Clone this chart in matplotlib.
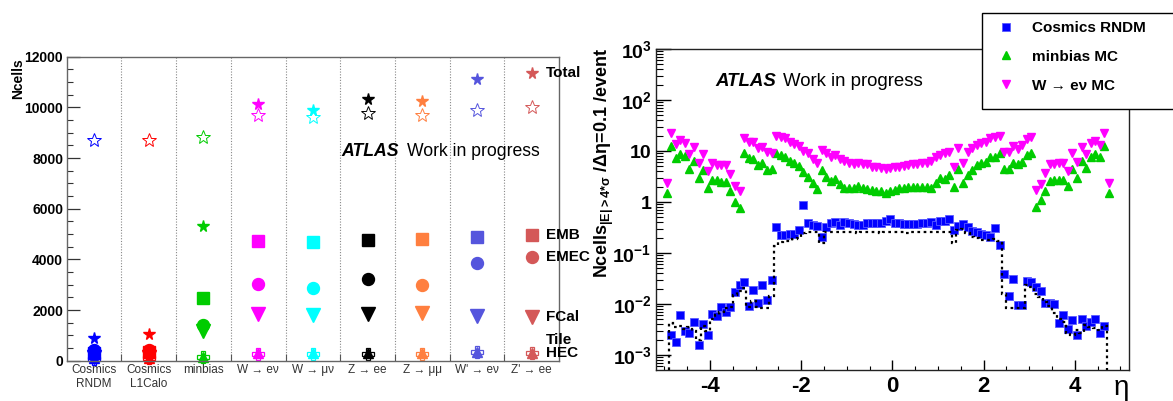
import numpy as np
import matplotlib
matplotlib.use('Agg')
import matplotlib.pyplot as plt
from matplotlib.patches import Rectangle
from matplotlib.ticker import FixedLocator, MultipleLocator, LogLocator, NullFormatter

plt.rcParams['font.family'] = ['Liberation Sans', 'DejaVu Sans']
plt.rcParams['mathtext.default'] = 'regular'
plt.rcParams['axes.unicode_minus'] = False

# ---------------- left panel data ----------------
categories = ['Cosmics\nRNDM', 'Cosmics\nL1Calo', 'minbias', 'W → eν', 'W → μν',
              'Z → ee', 'Z → μμ', "W' → eν", "Z' → ee"]
cat_colors = ['#0000ff', '#ff0000', '#00cc00', '#ff00ff', '#00ffff',
              '#000000', '#ff7f3f', '#5555dd', '#d45858']
total = [884, 1054, 5318, 10122, 9897, 10320, 10253, 11109, 11344]
total_open = [8713, 8713, 8843, 9700, 9610, 9791, 9700, 9897, 10026]
emb = [300, 330, 2488, 4726, 4674, 4765, 4793, 4895, 4963]
emec = [420, 430, 1409, 3016, 2858, 3213, 2989, 3869, 4106]
fcal = [150, 160, 1170, 1832, 1804, 1832, 1895, 1764, 1737]
tile = [80, 90, 150, 270, 270, 250, 260, 330, 300]
hec = [100, 120, 140, 300, 300, 320, 300, 330, 300]
legend_rows = [('Total', total, 0), ('EMB', emb, 0), ('EMEC', emec, 0),
               ('FCal', fcal, 0), ('Tile', tile, 9.6), ('HEC', hec, 0)]

# ---------------- right panel data ----------------
eta_mc = -4.95 + 0.1 * np.arange(98)
eta_cos = -4.85 + 0.1 * np.arange(96)
hist_edges = -4.9 + 0.1 * np.arange(97)

cosmics = [0.0025, 0.0018, 0.0060, 0.0030, 0.0027, 0.0044, 0.0016, 0.0041, 0.0025, 0.0063,
           0.0058, 0.0088, 0.0070, 0.0088, 0.0175, 0.0236, 0.0267, 0.0092, 0.0191, 0.0106,
           0.024, 0.012, 0.030, 0.32, 0.223, 0.225, 0.237, 0.24, 0.283, 0.863,
           0.383, 0.355, 0.34, 0.21, 0.33, 0.383, 0.406, 0.36, 0.406, 0.383,
           0.37, 0.355, 0.355, 0.383, 0.383, 0.383, 0.39, 0.425, 0.47,
           0.383, 0.38, 0.37, 0.37, 0.37, 0.37, 0.38, 0.39, 0.41, 0.36,
           0.43, 0.42, 0.466, 0.284, 0.34, 0.37, 0.32, 0.27, 0.255, 0.237,
           0.225, 0.21, 0.305, 0.142, 0.038, 0.0144, 0.0315, 0.0096, 0.0096, 0.0288,
           0.0275, 0.0219, 0.0183, 0.0106, 0.0106, 0.0100, 0.0043, 0.0060, 0.0033, 0.0049,
           0.0025, 0.0051, 0.0037, 0.0045, 0.0051, 0.0027, 0.0038]

cosmics_hist = [0.0042, 0.0035, 0.0037, 0.0033, 0.0036, 0.0030, 0.0020, 0.0038, 0.0030, 0.0052,
                0.0060, 0.0070, 0.0085, 0.0088, 0.015, 0.018, 0.021, 0.0088, 0.0115, 0.0087,
                0.0085, 0.0082, 0.0145, 0.135, 0.164, 0.17, 0.175, 0.19, 0.20, 0.25,
                0.26, 0.26, 0.26, 0.155, 0.26, 0.26, 0.26, 0.26, 0.26, 0.26,
                0.26, 0.25, 0.26, 0.26, 0.26, 0.26, 0.25, 0.26, 0.26,
                0.255, 0.255, 0.255, 0.25, 0.255, 0.255, 0.255, 0.255, 0.255, 0.255,
                0.255, 0.255, 0.255, 0.155, 0.28, 0.29, 0.25, 0.21, 0.20, 0.18,
                0.18, 0.18, 0.19, 0.17, 0.016, 0.0083, 0.0083, 0.0083, 0.0083, 0.024,
                0.022, 0.016, 0.014, 0.011, 0.0091, 0.0068, 0.0050, 0.0044, 0.0027, 0.0025,
                0.0031, 0.0027, 0.0039, 0.0036, 0.0034, 0.0031, 0.0038]

minbias = [1.48, 12.8, 7.4, 8.8, 8.0, 4.45, 6.5, 2.97, 4.26, 1.91,
           2.71, 2.68, 2.51, 2.51, 1.65, 1.02, 0.78, 9.0, 7.2, 7.0,
           5.26, 5.75, 4.26, 4.4, 9.0, 8.3, 7.7, 6.4, 5.75, 5.1,
           3.95, 3.16, 2.33, 1.78, 4.26, 3.06, 2.63, 2.79, 2.26, 1.86,
           1.86, 1.91, 2.10, 1.86, 1.83, 1.73, 1.65, 1.63, 1.49, 1.68,
           1.73, 1.86, 1.91, 1.94, 2.01, 2.01, 2.01, 1.94, 1.86, 2.40,
           2.92, 2.79, 3.40, 2.01, 4.40, 2.33, 3.40, 4.26, 5.33, 5.93,
           6.2, 7.55, 7.8, 9.0, 4.4, 4.4, 5.75, 5.5, 6.2, 8.4,
           9.0, 0.79, 1.10, 1.67, 2.59, 2.71, 2.71, 2.71, 2.10, 4.4,
           3.01, 6.5, 4.6, 7.7, 8.6, 7.6, 12.8, 1.48]

wenu = [2.40, 23.0, 13.6, 16.5, 14.6, 8.8, 11.9, 5.75, 8.8, 4.07,
        5.75, 5.33, 5.33, 5.33, 3.5, 2.07, 1.65, 17.8, 15.3, 14.9,
        11.3, 11.8, 9.5, 9.0, 19.5, 19.1, 17.8, 15.3, 13.8, 12.6,
        10.2, 9.0, 6.9, 5.75, 10.5, 9.0, 7.8, 8.3, 6.9, 6.5,
        5.9, 5.6, 5.75, 5.5, 5.6, 4.9, 4.9, 4.6, 4.4, 4.6,
        4.9, 4.9, 5.1, 5.33, 5.6, 5.6, 5.75, 5.75, 6.5, 7.55,
        8.3, 9.0, 9.5, 4.9, 11.3, 5.9, 9.5, 11.3, 13.1, 14.6,
        15.3, 17.8, 19.1, 19.5, 9.75, 9.75, 12.6, 10.8, 13.1, 17.0,
        18.6, 1.73, 2.23, 3.67, 5.5, 5.5, 5.75, 5.75, 4.13, 9.0,
        6.0, 12.2, 8.6, 14.6, 16.0, 13.1, 23.0, 2.40]

W, H = 1173, 401
fig = plt.figure(figsize=(W / 100, H / 100), dpi=100)
fig.patch.set_facecolor('white')

def box(x0, y0, x1, y1):
    return [x0 / W, 1 - y1 / H, (x1 - x0) / W, (y1 - y0) / H]

# ================= LEFT PANEL =================
axL = fig.add_axes(box(66.7, 56.7, 559, 360.7))
xc = np.arange(len(categories)) + 0.5
for i, c in enumerate(cat_colors):
    kw = dict(ls='none', clip_on=False)
    axL.plot(xc[i], total_open[i], marker='*', ms=10.5, mfc='none', mec=c, mew=0.7, **kw)
    axL.plot(xc[i], total[i], marker='*', ms=8.5, color=c, mec=c, **kw)
    axL.plot(xc[i], emb[i], marker='s', ms=8.8, color=c, mec=c, **kw)
    axL.plot(xc[i], emec[i], marker='o', ms=8.6, color=c, mec=c, **kw)
    axL.plot(xc[i], fcal[i], marker='v', ms=9.5, color=c, mec=c, **kw)
    axL.plot(xc[i], tile[i], marker='P', ms=8.5, mfc='none', mec=c, mew=0.9, **kw)
    axL.plot(xc[i], hec[i], marker='^', ms=7.5, color=c, mec=c, **kw)

axL.set_xlim(0, len(categories))
axL.set_ylim(0, 12000)
for b in range(1, len(categories)):
    axL.axvline(b, color='#888888', ls=(0, (1, 1.5)), lw=0.8, zorder=0)

axL.xaxis.set_major_locator(FixedLocator(np.arange(1, len(categories))))
axL.set_xticks(xc, categories, minor=True)
axL.tick_params(axis='x', which='major', direction='in', length=5, width=0.8,
                color='#555555', labelbottom=False)
axL.tick_params(axis='x', which='minor', length=0, labelsize=8.5, labelcolor='#333333', pad=2.5)
yt = np.arange(0, 12001, 2000)
axL.set_yticks(yt, [str(v) for v in yt], fontsize=10, fontweight='bold')
axL.yaxis.set_minor_locator(MultipleLocator(500))
axL.tick_params(axis='y', which='major', direction='in', length=9.4, width=0.9,
                color='#333333', pad=2.5)
axL.tick_params(axis='y', which='minor', direction='in', length=4.5, width=0.8, color='#333333')
for t in axL.yaxis.get_major_ticks():
    if 0 < t.get_loc() <= 2000:
        t.tick1line.set_color('#4a4aff')
for sp in axL.spines.values():
    sp.set_color('#666666')
    sp.set_linewidth(1.0)

for name, vals, dy in legend_rows:
    axL.annotate(name, xy=(xc[-1], vals[-1]), xytext=(10.3, dy), textcoords='offset points',
                 va='center', ha='left', fontsize=11, fontweight='bold', annotation_clip=False)

tL = axL.text((341.7 - 66.7) / (559 - 66.7), (360.7 - 151.7) / (360.7 - 56.7), 'ATLAS',
              transform=axL.transAxes, fontsize=12.7, fontweight='bold', style='italic',
              va='center', ha='left')
axL.annotate('Work in progress', xy=(1, 0.5), xycoords=tL, xytext=(5.5, 0),
             textcoords='offset points', va='center', ha='left', fontsize=12.7)

fig.text(18 / W, 1 - 58 / H, 'Ncells', rotation=90, ha='center', va='top',
         fontsize=10, fontweight='bold')

# ================= RIGHT PANEL =================
axR = fig.add_axes(box(655.7, 49, 1129, 370))
ylo = 5.1e-4
axR.set_yscale('log')
axR.set_xlim(-5.19, 5.19)
axR.set_ylim(ylo, 1e3)

axR.stairs(cosmics_hist, hist_edges, baseline=ylo, color='black', ls=(0, (1.2, 1.6)), lw=1.6,
           zorder=3)
l_cos, = axR.plot(eta_cos, cosmics, ls='none', marker='s', ms=5.3, color='#0000ff',
                  mec='#5a5aff', mew=0.6, zorder=2, label='Cosmics RNDM')
l_mb, = axR.plot(eta_mc, minbias, ls='none', marker='^', ms=5.6, color='#00cc00',
                 mec='#00cc00', zorder=2, label='minbias MC')
l_w, = axR.plot(eta_mc, wenu, ls='none', marker='v', ms=5.6, color='#ff00ff',
                mec='#ff00ff', zorder=2, label='W → eν MC')

xt = [-4, -2, 0, 2, 4]
axR.set_xticks(xt, [str(v) for v in xt], fontsize=16, fontweight='bold')
axR.xaxis.set_minor_locator(MultipleLocator(0.5))
dec = [1e-3, 1e-2, 1e-1, 1, 10, 100, 1000]
def declabel(v):
    e = int(round(np.log10(v)))
    if e == 0:
        return '1'
    if e == 1:
        return '10'
    return '10$^{%d}$' % e
axR.set_yticks(dec, [declabel(v) for v in dec], fontsize=14, fontweight='bold')
axR.yaxis.set_minor_locator(LogLocator(base=10, subs=np.arange(2, 10)))
axR.yaxis.set_minor_formatter(NullFormatter())
axR.tick_params(axis='x', which='major', direction='in', length=7, width=1, pad=4)
axR.tick_params(axis='x', which='minor', direction='in', length=3, width=0.8)
axR.tick_params(axis='y', which='major', direction='in', length=10.5, width=1, pad=3)
axR.tick_params(axis='y', which='minor', direction='in', length=5, width=0.8)
for sp in axR.spines.values():
    sp.set_color('#222222')
    sp.set_linewidth(1.0)

tR = axR.text((715 - 655.7) / (1129 - 655.7), (370 - 82) / (370 - 49), 'ATLAS',
              transform=axR.transAxes, fontsize=13.4, fontweight='bold', style='italic',
              va='center', ha='left')
axR.annotate('Work in progress', xy=(1, 0.5), xycoords=tR, xytext=(5.5, 0),
             textcoords='offset points', va='center', ha='left', fontsize=13.4)

fig.text(604 / W, 1 - 48 / H, 'Ncells$_{|E|>4{*}σ}$ /Δη=0.1 /event', rotation=90,
         ha='center', va='top', fontsize=13, fontweight='bold')
fig.text(1121 / W, 1 - 388 / H, 'η', ha='center', va='center', fontsize=20)

# legend box on the right
fig.add_artist(Rectangle((981.7 / W, 1 - 109.3 / H), (1176 - 981.7) / W, 96.6 / H,
                         transform=fig.transFigure, facecolor='white', edgecolor='black',
                         lw=1.0, zorder=3))
fig.legend([l_cos, l_mb, l_w], ['Cosmics RNDM', 'minbias MC', 'W → eν MC'],
           loc='upper left', bbox_to_anchor=(998 / W, 1 - 21 / H), frameon=False,
           prop=dict(weight='bold', size=11), handlelength=1.0, handletextpad=1.2,
           labelspacing=0.97, borderpad=0, borderaxespad=0, markerscale=1.0)

fig.savefig('out.png', dpi=100, facecolor='white')
